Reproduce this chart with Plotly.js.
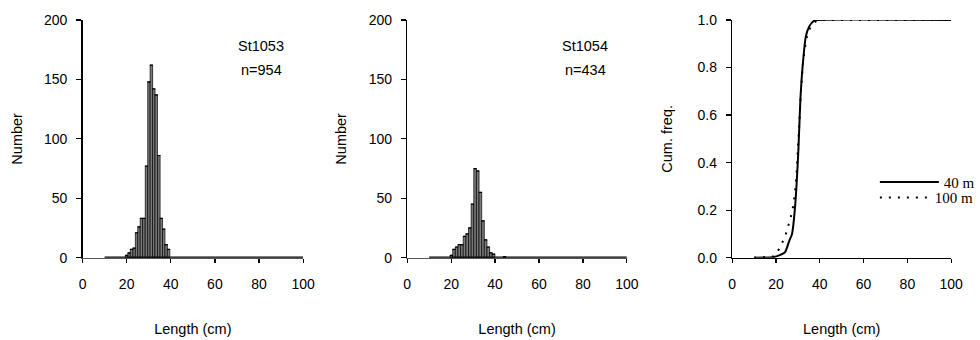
<!DOCTYPE html>
<html>
<head>
<meta charset="utf-8">
<script src="https://cdn.plot.ly/plotly-3.0.1.min.js"></script>
<style>
  html, body { margin: 0; padding: 0; background: #fff; }
  #chart { width: 980px; height: 340px; }
</style>
</head>
<body>
<div id="chart"></div>
<script>
// ---- Data ----
// St1053 (40 m) length histogram
const len1053 = [20.0, 21.1, 22.2, 23.4, 24.5, 25.6, 26.7, 27.8, 29.0, 30.1, 31.2, 32.3, 33.4, 34.6, 35.7, 36.8, 37.9, 39.0];
const num1053 = [2, 4, 7, 8, 21, 26, 33, 33, 77, 148, 162, 142, 137, 86, 33, 24, 11, 7];
// St1054 (100 m) length histogram
const len1054 = [20.1, 21.3, 22.5, 23.7, 24.9, 26.1, 27.3, 28.5, 29.7, 30.9, 32.1, 33.3, 34.5, 35.7, 36.9, 38.1, 39.3, 44.3];
const num1054 = [2, 7, 9, 11, 11, 18, 20, 25, 45, 75, 73, 55, 31, 15, 9, 4, 3, 1];
// Range of length classes with zero counts (drawn as the heavy baseline)
const zeroClassX = [10, 100];
const zeroClassY = [0, 0];
// Cumulative frequency curves
const cum40X  = [10, 19, 24, 26, 27.3, 28.7, 30.2, 31.1, 32.1, 33.6, 35.1, 37.4, 39, 100];
const cum40Y  = [0, 0.003, 0.022, 0.07, 0.10, 0.215, 0.45, 0.66, 0.80, 0.93, 0.972, 0.997, 1, 1];
const cum100X = [10, 19, 21.3, 23.2, 24.7, 26.1, 27.0, 27.9, 28.5, 29.3, 30.4, 31.4, 32.4, 33.8, 35.5, 37.5, 39.5, 100];
const cum100Y = [0, 0.005, 0.035, 0.07, 0.105, 0.145, 0.18, 0.22, 0.26, 0.34, 0.54, 0.70, 0.83, 0.92, 0.965, 0.99, 1, 1];
// Labels
const stationLabels = ['St1053', 'St1054'];
const nLabels = ['n=954', 'n=434'];
const depthLabels = ['40 m', '100 m'];
const histTicks = [0, 50, 100, 150, 200];
const lenTicks = [0, 20, 40, 60, 80, 100];
const cumTicks = [0, 0.2, 0.4, 0.6, 0.8, 1.0];

// ---- Styling ----
const SANS = 'Liberation Sans, Arial, sans-serif';
const SERIF = 'Liberation Serif, Times New Roman, serif';
const tickFont = {family: SANS, size: 14, color: '#000'};
const titleFont = {family: SANS, size: 14.5, color: '#000'};
const noteFont = {family: SANS, size: 14.5, color: '#000'};

function barTrace(x, y, w, xa, ya) {
  return {
    type: 'bar', x: x, y: y, width: w, xaxis: xa, yaxis: ya,
    marker: {color: '#7a7a7a', line: {color: '#000', width: 0.7}},
    error_y: {type: 'data', array: y.map(() => 0), visible: true, color: '#000', thickness: 1.2, width: 1.6},
    showlegend: false, hoverinfo: 'x+y'
  };
}
function baseTrace(xa, ya) {
  return {type: 'scatter', mode: 'lines', x: zeroClassX, y: zeroClassY, xaxis: xa, yaxis: ya,
          line: {color: '#000', width: 2.4}, showlegend: false, hoverinfo: 'skip'};
}

const data = [
  baseTrace('x', 'y'),
  barTrace(len1053, num1053, 1.12, 'x', 'y'),
  baseTrace('x2', 'y2'),
  barTrace(len1054, num1054, 1.2, 'x2', 'y2'),
  {type: 'scatter', mode: 'lines', x: cum40X, y: cum40Y, xaxis: 'x3', yaxis: 'y3',
   name: depthLabels[0], legend: 'legend', line: {color: '#000', width: 2, shape: 'spline', smoothing: 0.6}},
  {type: 'scatter', mode: 'lines', x: cum100X, y: cum100Y, xaxis: 'x3', yaxis: 'y3',
   name: depthLabels[1], legend: 'legend2', line: {color: '#000', width: 2, dash: '2px,7px'}}
];

function xAxis(domain, anchor, lineColor) {
  return {
    domain: domain, anchor: anchor, range: [0, 100], tickvals: lenTicks,
    showline: true, linecolor: lineColor, linewidth: 1.2, mirror: false,
    ticks: 'outside', ticklen: 4, tickwidth: 1.2, tickcolor: '#000',
    showgrid: false, zeroline: false, tickfont: tickFont, ticklabelstandoff: 9,
    title: {text: 'Length (cm)', font: titleFont, standoff: 33},
    fixedrange: true
  };
}
function yAxis(domain, anchor, range, ticks, fmt, title, standoff) {
  return {
    domain: domain, anchor: anchor, range: range, tickvals: ticks, tickformat: fmt,
    showline: true, linecolor: '#000', linewidth: 1.4,
    ticks: 'outside', ticklen: 5, tickwidth: 1.2, tickcolor: '#000',
    showgrid: false, zeroline: false, tickfont: tickFont, ticklabelstandoff: 6,
    title: {text: title, font: titleFont, standoff: standoff},
    fixedrange: true
  };
}

const yDom = [0.2421, 0.9412];
const legendCommon = {
  x: 0.901, xanchor: 'left', yanchor: 'top',
  bgcolor: 'rgba(0,0,0,0)', borderwidth: 0,
  font: {family: SERIF, size: 15, color: '#000'},
  tracegroupgap: 0
};
const layout = {
  width: 980, height: 340,
  margin: {l: 0, r: 0, t: 0, b: 0},
  paper_bgcolor: '#fff', plot_bgcolor: '#fff',
  bargap: 0,
  xaxis: xAxis([0.0850, 0.3122], 'y', '#555'),
  yaxis: yAxis(yDom, 'x', [0, 200], histTicks, 'd', 'Number', 18),
  xaxis2: xAxis([0.4194, 0.6456], 'y2', '#555'),
  yaxis2: yAxis(yDom, 'x2', [0, 200], histTicks, 'd', 'Number', 18),
  xaxis3: xAxis([0.7541, 0.9796], 'y3', '#000'),
  yaxis3: yAxis(yDom, 'x3', [0, 1], cumTicks, '.1f', 'Cum. freq.', 21),
  showlegend: true,
  legend: Object.assign({}, legendCommon, {y: 0.5126, itemwidth: 59}),
  legend2: Object.assign({}, legendCommon, {y: 0.4668, itemwidth: 50}),
  annotations: [
    {xref: 'x', yref: 'y', x: 81, y: 178, text: stationLabels[0], showarrow: false, font: noteFont},
    {xref: 'x', yref: 'y', x: 81, y: 158, text: nLabels[0], showarrow: false, font: noteFont},
    {xref: 'x2', yref: 'y2', x: 81, y: 178, text: stationLabels[1], showarrow: false, font: noteFont},
    {xref: 'x2', yref: 'y2', x: 81, y: 158, text: nLabels[1], showarrow: false, font: noteFont}
  ]
};

Plotly.newPlot('chart', data, layout, {staticPlot: true, displayModeBar: false});
</script>
</body>
</html>
